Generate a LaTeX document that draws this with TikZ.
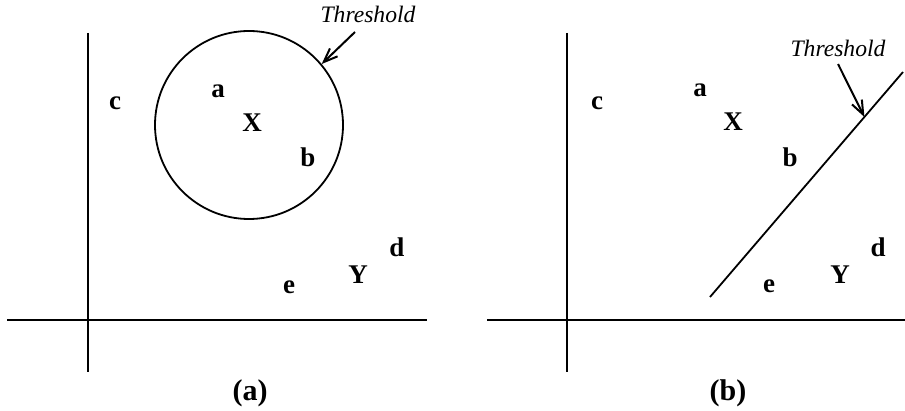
\documentclass[tikz,border=0pt]{standalone}
\usepackage{fontspec}
\setmainfont{Liberation Serif}
\usetikzlibrary{arrows.meta,calc}

\begin{document}
\begin{tikzpicture}[
  x=0.5pt, y=-0.5pt,
  eje/.style={line width=0.9pt},
  letra/.style={inner sep=0pt, font=\fontsize{13.5}{16}\selectfont\bfseries},
  rotulo/.style={inner sep=0pt, font=\fontsize{15}{18}\selectfont\bfseries},
  umbral/.style={inner sep=0pt, anchor=base, font=\fontsize{11.8}{14}\selectfont\itshape},
  flecha/.style={-{Straight Barb[length=7pt,width=5.5pt]}, line width=1pt}
]
\useasboundingbox (0,0) rectangle (905,411);

% (a): circular threshold
\draw[eje] (88,33) -- (88,372);
\draw[eje] (7,320) -- (427,320);
\node[draw, circle, line width=0.9pt, minimum size=94pt, inner sep=0pt] (circ) at (249,125) {};
\node[letra] (ca) at (115,103) {c};
\node[letra] (aa) at (218,91) {a};
\node[letra] (xa) at (252,123) {X};
\node[letra] (ba) at (308,157) {b};
\node[letra] (da) at (397,247) {d};
\node[letra] (ya) at (358,275) {Y};
\node[letra] (ea) at (289,287) {e};
\node[umbral] (thra) at (368,23) {Threshold};
\coordinate (inia) at (355,32);
\draw[flecha] (inia) -- (circ.40);
\node[rotulo] (pa) at (250,393) {(a)};

% (b): linear threshold
\draw[eje] (567,33) -- (567,372);
\draw[eje] (487,320) -- (905,320);
\coordinate (u1) at (710,297);
\coordinate (u2) at (903,72);
\draw[eje] (u1) -- (u2);
\node[letra] (cb) at (597,103) {c};
\node[letra] (ab) at (700,90) {a};
\node[letra] (xb) at (733,122) {X};
\node[letra] (bb) at (790,157) {b};
\node[letra] (db) at (878,247) {d};
\node[letra] (yb) at (840,275) {Y};
\node[letra] (eb) at (769,286) {e};
\node[umbral] (thrb) at (838,57) {Threshold};
\coordinate (inib) at (838,64);
\coordinate (tipb) at ($(u1)!0.8!(u2)$);
\draw[flecha] (inib) -- (tipb);
\node[rotulo] (pb) at (728,393) {(b)};
\end{tikzpicture}
\end{document}
